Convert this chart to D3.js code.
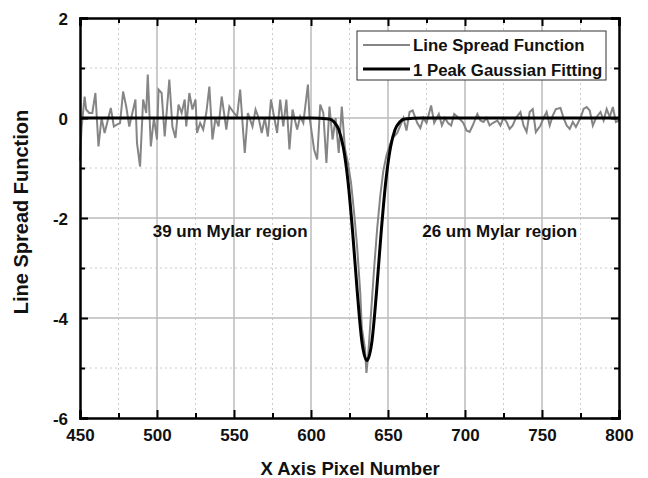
<!DOCTYPE html>
<html>
<head>
<meta charset="utf-8">
<script src="https://cdn.jsdelivr.net/npm/d3@7"></script>
<style>
    body { margin: 0; background: #fff; }
    text { font-family: Arial, "Liberation Sans", sans-serif; font-weight: bold; fill: #111; }
</style>
</head>
<body>
<div id="chart"></div>
<script>
var lsfX = [450, 451, 453, 454, 456, 458, 460, 462, 464, 466, 470, 472, 474, 476, 478, 480, 482, 486, 487, 489,
    491, 493, 494, 496, 498, 500, 501, 503, 505, 508, 510, 512, 514, 516, 518, 519, 521, 523, 525, 526,
    528, 530, 532, 534, 536, 538, 540, 542, 544, 545, 547, 550, 552, 554, 556, 557, 559, 562, 564, 566,
    568, 570, 572, 574, 576, 578, 580, 582, 584, 586, 588, 591, 593, 595, 598, 599, 602, 604, 606, 608,
    610, 612, 614, 616, 618, 620, 622, 624, 626, 628, 630, 632, 633, 635, 636, 637, 639, 641, 643, 645,
    647, 649, 651, 653, 656, 658, 660, 662, 664, 666, 669, 671, 673, 675, 678, 680, 683, 685, 687, 689,
    691, 693, 696, 699, 701, 703, 705, 708, 710, 712, 714, 716, 718, 721, 723, 725, 727, 729, 731, 733,
    736, 738, 740, 742, 744, 746, 749, 751, 753, 755, 757, 759, 762, 764, 766, 768, 770, 772, 775, 777,
    779, 781, 783, 785, 788, 790, 792, 794, 796, 798, 800];
var lsfY = [-0.85, -0.2, 0.43, 0.17, 0.1, 0.1, 0.5, -0.57, 0.0, -0.3, 0.2, -0.17, -0.13, -0.1, 0.53, 0.23, -0.17, 0.37, -0.5, -0.97,
    0.37, 0.1, 0.87, -0.57, 0.0, -0.43, 0.57, 0.5, -0.37, 0.77, -0.17, -0.4, 0.27, 0.1, 0.37, -0.17, 0.5, 0.17, 0.37, -0.3,
    -0.1, -0.23, 0.1, 0.63, -0.43, 0.0, -0.17, 0.43, 0.0, -0.23, 0.23, 0.1, 0.03, 0.57, -0.3, -0.7, 0.1, -0.17, 0.17, 0.0,
    -0.3, 0.0, -0.37, 0.37, 0.03, -0.3, 0.37, -0.17, 0.37, -0.63, 0.17, -0.23, 0.03, -0.1, 0.67, 0.03, -0.63, -0.83, 0.27, 0.1,
    -0.9, 0.23, -0.43, 0.0, -0.7, 0.23, -0.6, -0.9, -1.3, -1.9, -2.6, -3.5, -4.2, -4.6, -5.1, -4.8, -3.9, -3.0, -2.2, -1.55,
    -1.05, -0.75, -0.55, -0.4, -0.3, -0.15, 0.0, -0.25, 0.12, 0.15, -0.1, -0.2, 0.0, -0.1, 0.25, -0.1, 0.08, -0.15, 0.0, -0.1,
    -0.15, 0.08, 0.0, -0.1, -0.25, -0.28, -0.15, 0.08, -0.05, -0.08, 0.0, -0.15, -0.1, -0.05, -0.15, 0.0, -0.08, -0.22, -0.15, 0.0,
    0.12, -0.15, -0.28, 0.12, 0.18, -0.28, -0.15, 0.0, 0.12, -0.15, 0.05, 0.18, 0.2, 0.0, -0.15, -0.22, -0.08, -0.18, 0.0, 0.18,
    0.22, 0.15, -0.15, 0.0, 0.12, -0.05, 0.18, 0.02, 0.22, -0.08, -0.05];

// 1 peak gaussian fit
var fitX = [450, 600, 612, 615, 618, 621, 624, 627, 630, 633, 636.3, 639.6, 642.6, 645.6, 648.6, 651.6, 654.6, 657.6, 660.6, 672, 800];
var fitY = [0, 0, -0.02, -0.08, -0.23, -0.59, -1.26, -2.27, -3.46, -4.46, -4.85, -4.46, -3.46, -2.27, -1.26, -0.59, -0.23, -0.08, -0.02, 0, 0];

var xTicks = [450, 500, 550, 600, 650, 700, 750, 800];
var yTicks = [2, 0, -2, -4, -6];
var legendLabels = ["Line Spread Function", "1 Peak Gaussian Fitting"];
var notes = [{x: 547.5, y: -2.38, text: "39 um Mylar region"}, {x: 722.5, y: -2.38, text: "26 um Mylar region"}];

var margin = {top: 18, right: 29, bottom: 60, left: 80};
var width = 648 - margin.left - margin.right,
    height = 478 - margin.top - margin.bottom;

var svg = d3.select("#chart").append("svg")
    .attr("width", 648)
    .attr("height", 478);

var g = svg.append("g")
    .attr("transform", "translate(" + margin.left + "," + margin.top + ")");

var x = d3.scaleLinear().domain([450, 800]).range([0, width]);
var y = d3.scaleLinear().domain([-6, 2]).range([height, 0]);

var minorX = d3.range(475, 800, 50);
var minorY = d3.range(-5, 2, 2);

// grid
g.selectAll(".gx").data(minorX).enter().append("line")
    .attr("x1", function(d){ return x(d); }).attr("x2", function(d){ return x(d); })
    .attr("y1", 0).attr("y2", height)
    .attr("stroke", "#ccc").attr("stroke-width", 1).attr("stroke-dasharray", "2,3");
g.selectAll(".gy").data(minorY).enter().append("line")
    .attr("y1", function(d){ return y(d); }).attr("y2", function(d){ return y(d); })
    .attr("x1", 0).attr("x2", width)
    .attr("stroke", "#ccc").attr("stroke-width", 1).attr("stroke-dasharray", "2,3");
g.selectAll(".gX").data(xTicks.slice(1, -1)).enter().append("line")
    .attr("x1", function(d){ return x(d); }).attr("x2", function(d){ return x(d); })
    .attr("y1", 0).attr("y2", height)
    .attr("stroke", "#bbb").attr("stroke-width", 1.5);
g.selectAll(".gY").data(yTicks.slice(1, -1)).enter().append("line")
    .attr("y1", function(d){ return y(d); }).attr("y2", function(d){ return y(d); })
    .attr("x1", 0).attr("x2", width)
    .attr("stroke", "#bbb").attr("stroke-width", 1.5);

// data lines
var lsf = d3.range(lsfX.length).map(function(i){ return [lsfX[i], lsfY[i]]; });
var fit = d3.range(fitX.length).map(function(i){ return [fitX[i], fitY[i]]; });

var line = d3.line()
    .x(function(d){ return x(d[0]); })
    .y(function(d){ return y(d[1]); });

g.append("path").datum(lsf)
    .attr("d", line)
    .attr("fill", "none").attr("stroke", "#858585").attr("stroke-width", 2);

g.append("path").datum(fit)
    .attr("d", line.curve(d3.curveMonotoneX))
    .attr("fill", "none").attr("stroke", "#000").attr("stroke-width", 3);

// axes, ticks pointing inwards on all four sides
function addAxis(axis, tr, major, minor){
    var a = g.append("g").attr("transform", tr);
    a.call(axis.tickValues(minor).tickSize(-5).tickFormat(""));
    a.select(".domain").remove();
    var b = g.append("g").attr("transform", tr);
    b.call(axis.tickValues(major).tickSize(-8).tickFormat(d3.format("d")));
    b.select(".domain").attr("stroke-width", 2.5);
    a.selectAll("line").attr("stroke-width", 2);
    b.selectAll("line").attr("stroke-width", 2);
    return b;
}

var axBottom = addAxis(d3.axisBottom(x), "translate(0," + height + ")", xTicks, minorX);
axBottom.selectAll("text").attr("y", 23).attr("dy", 0).style("font-size", "17px");
var axLeft = addAxis(d3.axisLeft(y), "translate(0,0)", yTicks, minorY);
axLeft.selectAll("text").attr("x", -12).attr("dy", "0.36em").style("font-size", "17px")
    .text(function(d){ return d; });
var axTop = addAxis(d3.axisTop(x), "translate(0,0)", xTicks, minorX);
axTop.selectAll("text").remove();
var axRight = addAxis(d3.axisRight(y), "translate(" + width + ",0)", yTicks, minorY);
axRight.selectAll("text").remove();
svg.selectAll(".domain").attr("stroke", "#000");

// axis titles
svg.append("text")
    .attr("x", 350).attr("y", 475)
    .attr("text-anchor", "middle")
    .style("font-size", "18.5px")
    .text("X Axis Pixel Number");

svg.append("text")
    .attr("transform", "translate(28,212) rotate(-90)")
    .attr("text-anchor", "middle")
    .style("font-size", "20px")
    .text("Line Spread Function");

// region notes
g.selectAll(".note").data(notes).enter().append("text")
    .attr("x", function(d){ return x(d.x); })
    .attr("y", function(d){ return y(d.y); })
    .attr("text-anchor", "middle")
    .style("font-size", "17px")
    .text(function(d){ return d.text; });

// legend
var lg = svg.append("g").attr("transform", "translate(357,31)");
lg.append("rect")
    .attr("width", 249).attr("height", 49)
    .attr("fill", "#fff").attr("stroke", "#333").attr("stroke-width", 1);
lg.selectAll(".ll").data(legendLabels).enter().append("line")
    .attr("x1", 6).attr("x2", 53)
    .attr("y1", function(d, i){ return 14 + i * 24; })
    .attr("y2", function(d, i){ return 14 + i * 24; })
    .attr("stroke", function(d, i){ return i == 0 ? "#858585" : "#000"; })
    .attr("stroke-width", function(d, i){ return i == 0 ? 2 : 3; });
lg.selectAll(".lt").data(legendLabels).enter().append("text")
    .attr("x", 56)
    .attr("y", function(d, i){ return 20 + i * 25; })
    .style("font-size", "16.8px")
    .text(function(d){ return d; });
</script>
</body>
</html>
